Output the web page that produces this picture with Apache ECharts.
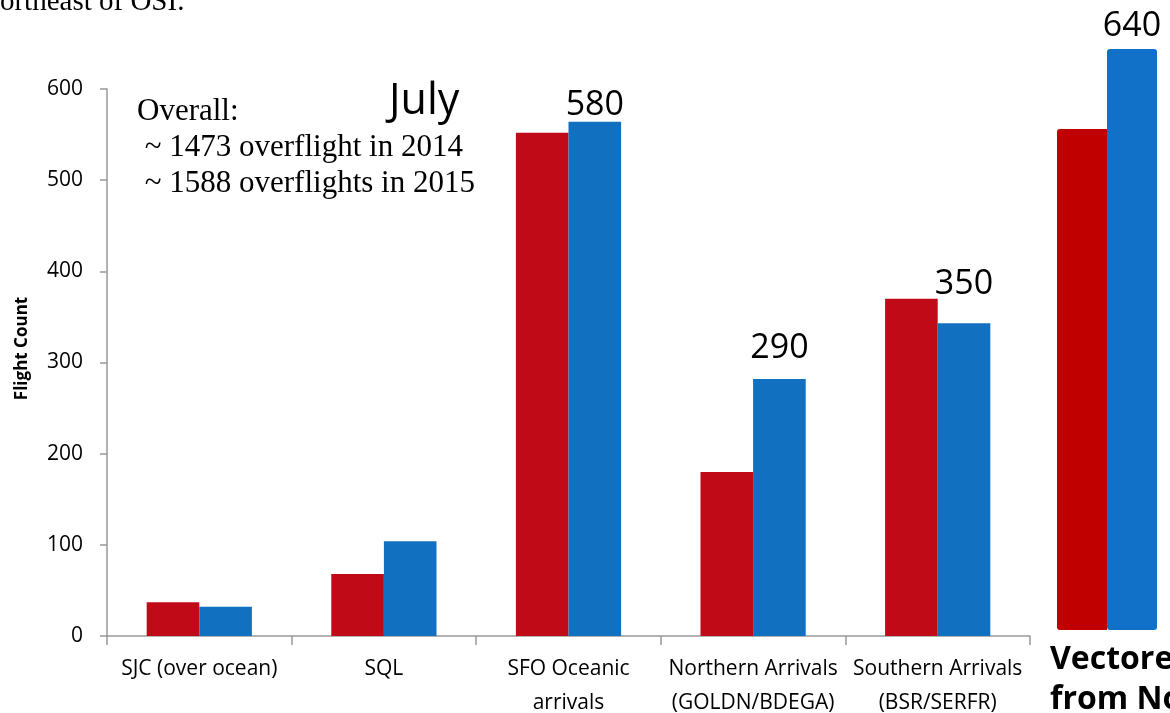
<!DOCTYPE html>
<html>
<head>
<meta charset="utf-8">
<script src="https://cdn.jsdelivr.net/npm/echarts@6/dist/echarts.min.js"></script>
<style>
html, body { margin: 0; padding: 0; background: #fff; }
#main { width: 1170px; height: 713px; }
</style>
</head>
<body>
<div id="main"></div>
<script>
// 数据
var categories = ["SJC (over ocean)", "SQL", "SFO Oceanic\narrivals", "Northern Arrivals\n(GOLDN/BDEGA)", "Southern Arrivals\n(BSR/SERFR)"];
var values2014 = [37, 68, 552, 180, 370];
var values2015 = [32, 104, 564, 282, 343];
var notes2015 = ["", "", "580", "290", "350"];
var yTicks = [0, 100, 200, 300, 400, 500, 600];
var sideCategory = ["Vectored\nfrom North"];
var side2014 = [552];
var side2015 = [640];
var sideNotes = ["640"];
var summaryLines = ["Overall:", " ~ 1473 overflight in 2014", " ~ 1588 overflights in 2015"];
var monthName = "July";
var headerText = "Northeast of OSI.";

var red = "#c00a18";
var blue = "#1170c0";
var sans = "'Open Sans', Lato, sans-serif";
var serif = "'Liberation Serif', 'DejaVu Serif', serif";

var myChart = echarts.init(document.getElementById("main"));

// 注释距离（柱顶到文字）
var noteGap = [0, 0, 0, 14, 22];

var blueData = values2015.map(function (v, i) {
    return {
        value: v,
        label: { distance: noteGap[i] }
    };
});

var option = {
    animation: false,
    backgroundColor: "#fff",
    grid: [
        { left: 107, right: 140, top: 89, bottom: 77, containLabel: false, outerBoundsMode: "none" },
        { left: 1057, width: 100, top: 49, bottom: 83, containLabel: false, outerBoundsMode: "none" }
    ],
    xAxis: [
        {
            type: "category",
            gridIndex: 0,
            data: categories,
            axisLine: { lineStyle: { color: "#999", width: 1.5 } },
            axisTick: { show: true, length: 9, lineStyle: { color: "#999", width: 1.5 } },
            axisLabel: {
                interval: 0,
                color: "#000",
                fontFamily: sans,
                fontSize: 21,
                lineHeight: 34,
                margin: 16
            },
            splitLine: { show: false }
        },
        {
            type: "category",
            gridIndex: 1,
            data: sideCategory,
            show: false
        }
    ],
    yAxis: [
        {
            type: "value",
            gridIndex: 0,
            min: yTicks[0],
            max: yTicks[yTicks.length - 1],
            interval: yTicks[1] - yTicks[0],
            name: "Flight Count",
            nameLocation: "middle",
            nameRotate: 90,
            nameGap: 76,
            nameTextStyle: {
                color: "#000",
                fontFamily: sans,
                fontWeight: "bold",
                fontSize: 17,
                padding: [0, 0, 0, 28]
            },
            axisLine: { show: true, lineStyle: { color: "#999", width: 1.5 } },
            axisTick: { show: true, length: 7, lineStyle: { color: "#999", width: 1.5 } },
            axisLabel: { color: "#000", fontFamily: sans, fontSize: 21, margin: 24 },
            splitLine: { show: false }
        },
        {
            type: "value",
            gridIndex: 1,
            min: 0,
            max: side2015[0],
            show: false
        }
    ],
    series: [
        {
            name: "2014",
            type: "bar",
            xAxisIndex: 0,
            yAxisIndex: 0,
            data: values2014,
            barGap: 0,
            barCategoryGap: "43%",
            itemStyle: { color: red }
        },
        {
            name: "2015",
            type: "bar",
            xAxisIndex: 0,
            yAxisIndex: 0,
            data: blueData,
            barGap: 0,
            barCategoryGap: "43%",
            itemStyle: { color: blue },
            label: {
                show: true,
                position: "top",
                color: "#000",
                fontFamily: sans,
                fontSize: 34,
                formatter: function (p) {
                    return notes2015[p.dataIndex];
                }
            }
        },
        {
            name: "side2014",
            type: "bar",
            xAxisIndex: 1,
            yAxisIndex: 1,
            data: side2014,
            barGap: 0,
            barCategoryGap: 0,
            itemStyle: { color: "#c00000", borderRadius: [3, 0, 0, 3] }
        },
        {
            name: "side2015",
            type: "bar",
            xAxisIndex: 1,
            yAxisIndex: 1,
            data: side2015,
            barGap: 0,
            barCategoryGap: 0,
            itemStyle: { color: "#1170c8", borderRadius: 3 },
            label: {
                show: true,
                position: "top",
                distance: 6,
                color: "#000",
                fontFamily: sans,
                fontSize: 34,
                formatter: function (p) {
                    return sideNotes[p.dataIndex];
                }
            }
        }
    ],
    graphic: [
        {
            type: "text",
            left: -21,
            top: -12,
            style: { text: headerText, font: "29px " + serif, fill: "#000" }
        },
        {
            type: "text",
            left: 137,
            top: 94,
            style: { text: summaryLines.join("\n"), font: "31px " + serif, lineHeight: 36, fill: "#000" }
        },
        {
            type: "text",
            left: 389,
            top: 80,
            style: { text: monthName, font: "43px " + sans, fill: "#000" }
        },
        {
            type: "text",
            left: 1050,
            top: 640,
            style: { text: sideCategory[0], font: "bold 32px " + sans, lineHeight: 40, fill: "#000" }
        }
    ]
};

myChart.setOption(option);
</script>
</body>
</html>
